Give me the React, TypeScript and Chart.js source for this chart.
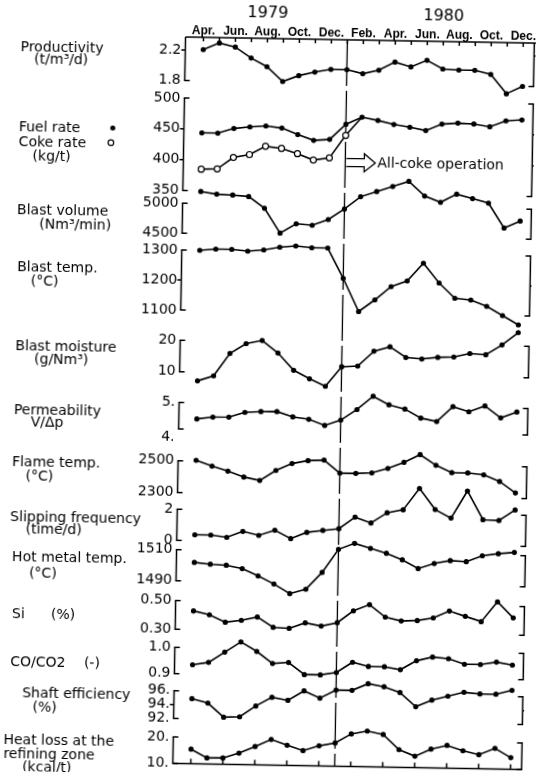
import React, { useEffect, useRef } from "react";
import { Chart, registerables } from "chart.js";

Chart.register(...registerables);

// ------------------------------------------------------------------ data
const categories = [
  "Apr. 1979", "May 1979", "Jun. 1979", "Jul. 1979", "Aug. 1979", "Sep. 1979", "Oct. 1979",
  "Nov. 1979", "Dec. 1979", "Jan. 1980", "Feb. 1980", "Mar. 1980", "Apr. 1980", "May 1980",
  "Jun. 1980", "Jul. 1980", "Aug. 1980", "Sep. 1980", "Oct. 1980", "Nov. 1980", "Dec. 1980",
];
const monthTickLabels = [
  "Apr.", "", "Jun.", "", "Aug.", "", "Oct.", "", "Dec.", "", "Feb.",
  "", "Apr.", "", "Jun.", "", "Aug.", "", "Oct.", "", "Dec.",
];
const yearTickLabels = [
  "", "", "", "", "1979", "", "", "", "", "", "", "", "", "", "", "1980", "", "", "", "", "",
];
const allCokeStartIndex = 9; // Jan. 1980
const allCokeText = "All-coke operation";

const productivity = [2.21, 2.3, 2.25, 2.11, 2.0, 1.81, 1.89, 1.94, 1.98, 1.98, 1.93, 1.98, 2.09, 2.03, 2.12, 2.01, 2.0, 2.0, 1.95, 1.7, 1.8];
const fuelRate = [444, 444, 452, 455, 457, 454, 444, 435, 437, 462, 474, 469, 463, 459, 454, 465, 467, 466, 462, 472, 474];
const cokeRate = [385, 386, 405, 410, 424, 421, 413, 403, 407, 444, 474, null, null, null, null, null, null, null, null, null, null];
const blastVolume = [5200, 5160, 5150, 5130, 4940, 4530, 4690, 4670, 4770, 4950, 5160, 5250, 5340, 5430, 5190, 5090, 5230, 5160, 5090, 4680, 4800];
const blastTemp = [1300, 1305, 1305, 1300, 1305, 1315, 1320, 1315, 1315, 1215, 1105, 1145, 1190, 1210, 1270, 1205, 1155, 1150, 1130, 1100, 1070];
const blastMoisture = [7.2, 8.9, 16.1, 19.3, 20.4, 16.5, 11.1, 8.5, 6.2, 12.5, 12.8, 17.6, 19.1, 15.8, 15.4, 16.0, 16.2, 17.4, 17.1, 20.3, 24.3];
const permeability = [4.39, 4.47, 4.48, 4.67, 4.71, 4.72, 4.53, 4.45, 4.23, 4.44, 4.85, 5.36, 5.05, 4.9, 4.57, 4.45, 5.02, 4.84, 5.07, 4.63, 4.86];
const flameTemp = [2505, 2470, 2440, 2405, 2385, 2450, 2495, 2515, 2520, 2440, 2440, 2445, 2475, 2515, 2565, 2500, 2455, 2455, 2445, 2405, 2335];
const slippingFrequency = [0.38, 0.38, 0.25, 0.65, 0.41, 0.76, 0.24, 0.66, 0.8, 0.93, 1.69, 1.33, 2.01, 2.22, 3.61, 2.27, 1.74, 3.5, 1.67, 1.64, 2.33];
const hotMetalTemp = [1502, 1501, 1500.5, 1498.5, 1494, 1489, 1483, 1486, 1497, 1512, 1516, 1513, 1510, 1506, 1500.5, 1504, 1506, 1505.5, 1509.5, 1511, 1512];
const siliconContent = [0.43, 0.405, 0.355, 0.37, 0.395, 0.325, 0.32, 0.36, 0.34, 0.365, 0.45, 0.495, 0.41, 0.385, 0.39, 0.41, 0.46, 0.425, 0.39, 0.53, 0.42];
const coCo2Ratio = [0.935, 0.945, 0.985, 1.025, 0.99, 0.945, 0.95, 0.905, 0.905, 0.915, 0.955, 0.94, 0.94, 0.93, 0.965, 0.98, 0.975, 0.955, 0.955, 0.965, 0.955];
const shaftEfficiency = [94.9, 94.3, 92.3, 92.4, 94.0, 95.3, 94.9, 96.3, 95.3, 96.5, 96.5, 97.5, 97.1, 96.3, 94.3, 95.3, 95.9, 96.5, 96.3, 96.3, 96.9];
const heatLoss = [15.5, 12.3, 12.4, 14.3, 16.9, 19.7, 17.6, 15.7, 17.6, 18.8, 22.3, 23.5, 22.3, 16.7, 14.3, 17.1, 18.6, 16.7, 15.3, 17.8, 14.4];

// tick values and tick labels of each panel (top to bottom)
const productivityTicks = [2.2, 1.8];
const productivityTickLabels = ["2.2", "1.8"];
const rateTicks = [500, 450, 400, 350];
const rateTickLabels = ["500", "450", "400", "350"];
const blastVolumeTicks = [5000, 4500];
const blastVolumeTickLabels = ["5000", "4500"];
const blastTempTicks = [1300, 1200, 1100];
const blastTempTickLabels = ["1300", "1200", "1100"];
const moistureTicks = [20, 10];
const moistureTickLabels = ["20", "10"];
const permeabilityTicks = [5, 4];
const permeabilityTickLabels = ["5.", "4."];
const flameTicks = [2500, 2300];
const flameTickLabels = ["2500", "2300"];
const slipTicks = [2, 0];
const slipTickLabels = ["2", "0"];
const hotMetalTicks = [1510, 1490];
const hotMetalTickLabels = ["1510", "1490"];
const siTicks = [0.5, 0.3];
const siTickLabels = ["0.50", "0.30"];
const coTicks = [1.0, 0.9];
const coTickLabels = ["1.0", "0.9"];
const shaftTicks = [96, 94, 92];
const shaftTickLabels = ["96.", "94.", "92."];
const heatTicks = [20, 10];
const heatTickLabels = ["20.", "10."];

// panel titles (each entry is one text piece)
const panelTitles = [
  ["Productivity", "(t/m³/d)"],
  ["Fuel rate", "Coke rate", "(kg/t)"],
  ["Blast volume", "(Nm³/min)"],
  ["Blast temp.", "(°C)"],
  ["Blast moisture", "(g/Nm³)"],
  ["Permeability", "V/Δp"],
  ["Flame temp.", "(°C)"],
  ["Slipping frequency", "(time/d)"],
  ["Hot metal temp.", "(°C)"],
  ["Si", "(%)"],
  ["CO/CO2", "(-)"],
  ["Shaft efficiency", "(%)"],
  ["Heat loss at the", "refining zone", "(kcal/t)"],
];

type Series = { label: string; data: (number | null)[]; open?: boolean };
const PANELS: { series: Series[]; ticks: number[]; tickLabels: string[] }[] = [
  { series: [{ label: "Productivity", data: productivity }], ticks: productivityTicks, tickLabels: productivityTickLabels },
  {
    series: [
      { label: "Fuel rate", data: fuelRate },
      { label: "Coke rate", data: cokeRate, open: true },
    ],
    ticks: rateTicks,
    tickLabels: rateTickLabels,
  },
  { series: [{ label: "Blast volume", data: blastVolume }], ticks: blastVolumeTicks, tickLabels: blastVolumeTickLabels },
  { series: [{ label: "Blast temp.", data: blastTemp }], ticks: blastTempTicks, tickLabels: blastTempTickLabels },
  { series: [{ label: "Blast moisture", data: blastMoisture }], ticks: moistureTicks, tickLabels: moistureTickLabels },
  { series: [{ label: "Permeability", data: permeability }], ticks: permeabilityTicks, tickLabels: permeabilityTickLabels },
  { series: [{ label: "Flame temp.", data: flameTemp }], ticks: flameTicks, tickLabels: flameTickLabels },
  { series: [{ label: "Slipping frequency", data: slippingFrequency }], ticks: slipTicks, tickLabels: slipTickLabels },
  { series: [{ label: "Hot metal temp.", data: hotMetalTemp }], ticks: hotMetalTicks, tickLabels: hotMetalTickLabels },
  { series: [{ label: "Si", data: siliconContent }], ticks: siTicks, tickLabels: siTickLabels },
  { series: [{ label: "CO/CO2", data: coCo2Ratio }], ticks: coTicks, tickLabels: coTickLabels },
  { series: [{ label: "Shaft efficiency", data: shaftEfficiency }], ticks: shaftTicks, tickLabels: shaftTickLabels },
  { series: [{ label: "Heat loss", data: heatLoss }], ticks: heatTicks, tickLabels: heatTickLabels },
];

// ------------------------------------------------------------------ layout (pixels, styles)
const W = 536;
const H = 774;
const PAD = { left: 143.5, right: 12.5, top: 0, bottom: 10.5 };
const YEAR_AXIS_H = 23;
const MONTH_AXIS_H = 14;
const Y_COL_W = 60;
const Y_LABEL_GAP = 22;
const AREA_TOP = PAD.top + YEAR_AXIS_H + MONTH_AXIS_H;
const AREA_BOTTOM = H - PAD.bottom;
// pixel rows of the highest and lowest labelled tick of every panel
const PANEL_TICK_PX: [number, number][] = [
  [50, 80.5], [98, 190.5], [203.2, 233.2], [250, 310], [340.3, 371.8], [402.5, 429],
  [460.8, 492.6], [509.3, 540.4], [549.7, 580.8], [600.6, 629.3], [647.4, 673.7],
  [690.8, 718.5], [737, 763.5],
];
// vertical nudge of individual tick labels (panel, tick index, dy)
const TICK_LABEL_NUDGE: [number, number, number][] = [[5, 1, 8]];
const TITLE_POS: [number, number][][] = [
  [[20.7, 49.9], [34.6, 62.6]],
  [[20.4, 130.8], [20.6, 145.5], [34.6, 158.9]],
  [[20.1, 212.9], [42.6, 227.2]],
  [[21.2, 270], [35.1, 284]],
  [[20.8, 349.8], [39.8, 362.4]],
  [[20.4, 413.8], [37.5, 425.8]],
  [[19.4, 465.5], [33.3, 479]],
  [[18.6, 520.2], [34.2, 532.6]],
  [[21.1, 560.5], [38.4, 575.9]],
  [[22.1, 617.3], [61.1, 617.3]],
  [[21.2, 665.8], [94.9, 665.8]],
  [[33.7, 696], [44.2, 710]],
  [[15.7, 743.5], [15.9, 757.5], [34.9, 770.5]],
];
const LEGEND_MARKS = [
  { x: 114.4, y: 129.3, open: false },
  { x: 112.8, y: 143.9, open: true },
];
const SANS = "'DejaVu Sans', 'Liberation Sans', sans-serif";
const MONTH_FONT = "'Liberation Sans', Arial, sans-serif";
const INK = "#000";

const bandEdges: number[] = [AREA_TOP];
for (let k = 0; k < PANEL_TICK_PX.length - 1; k++) {
  bandEdges.push((PANEL_TICK_PX[k][1] + PANEL_TICK_PX[k + 1][0]) / 2);
}
bandEdges.push(AREA_BOTTOM);

function buildYScale(k: number) {
  const p = PANELS[k];
  const hi = p.ticks[0];
  const lo = p.ticks[p.ticks.length - 1];
  const [yHi, yLo] = PANEL_TICK_PX[k];
  const top = bandEdges[k];
  const bottom = bandEdges[k + 1];
  const upp = (hi - lo) / (yLo - yHi);
  const nudged = new Set(TICK_LABEL_NUDGE.filter((n) => n[0] === k).map((n) => n[1]));
  return {
    type: "linear",
    position: "left",
    stack: "panels",
    stackWeight: bottom - top,
    weight: 100 - k,
    bounds: "data",
    min: lo - upp * (bottom - yLo),
    max: hi + upp * (yHi - top),
    // invisible tick marks only provide the gap between labels and chart area
    grid: { display: false, drawTicks: true, tickLength: Y_LABEL_GAP },
    border: { display: false },
    afterBuildTicks: (s: any) => {
      s.ticks = p.ticks.map((v) => ({ value: v }));
    },
    afterFit: (s: any) => {
      s.width = Y_COL_W;
    },
    ticks: {
      autoSkip: false,
      padding: 0,
      color: INK,
      font: { family: SANS, size: 14 },
      // a nudged label is printed on the second line of a two-line label (half a line lower)
      callback: (_v: any, i: number) => (nudged.has(i) ? ["", p.tickLabels[i]] : p.tickLabels[i]),
    },
  };
}

function line(ctx: CanvasRenderingContext2D, x1: number, y1: number, x2: number, y2: number) {
  ctx.beginPath();
  ctx.moveTo(x1, y1);
  ctx.lineTo(x2, y2);
  ctx.stroke();
}

const decorPlugin = {
  id: "decor",
  beforeDatasetsDraw(chart: any) {
    const { ctx, chartArea } = chart;
    const xs = chart.scales.x;
    const n = categories.length;
    const x0 = xs.getPixelForValue(0);
    const xn = xs.getPixelForValue(n - 1);
    const step = (xn - x0) / (n - 1);
    const leftX = x0 - step * 1.125;
    const rightX = xn + step * 0.69;
    ctx.save();
    ctx.strokeStyle = INK;
    ctx.lineWidth = 1.5;
    // top axis with a tick every month
    line(ctx, leftX, chartArea.top, chart.width, chartArea.top);
    for (let i = 0; i < n; i++) {
      const x = xs.getPixelForValue(i);
      line(ctx, x, chartArea.top, x, chartArea.top + 4);
    }
    // bottom axis with a tick every two months
    line(ctx, leftX, chartArea.bottom, rightX, chartArea.bottom);
    for (let i = 0; i < n; i += 2) {
      const x = xs.getPixelForValue(i);
      line(ctx, x, chartArea.bottom, x, chartArea.bottom - 5);
    }
    // panel brackets on both sides
    PANELS.forEach((p, k) => {
      const ys = chart.scales["y" + k];
      const pix = p.ticks.map((v) => ys.getPixelForValue(v));
      const yTop = k === 0 ? chartArea.top : pix[0];
      const yBot = pix[pix.length - 1];
      line(ctx, leftX, yTop, leftX, yBot);
      line(ctx, rightX, yTop, rightX, yBot);
      pix.forEach((py, j) => {
        const isEnd = (j === 0 && k !== 0) || j === pix.length - 1;
        if (isEnd) {
          line(ctx, leftX - 0.75, py, leftX + 5, py);
          line(ctx, rightX + 0.75, py, rightX - 5, py);
        } else {
          line(ctx, leftX - 4, py, leftX, py);
          line(ctx, rightX, py, rightX + 4, py);
        }
      });
    });
    // start of all-coke operation
    const xc = xs.getPixelForValue(allCokeStartIndex);
    ctx.lineWidth = 1.3;
    ctx.setLineDash([46, 5]);
    line(ctx, xc, chartArea.top, xc, chartArea.bottom);
    ctx.setLineDash([]);
    ctx.restore();
  },
  afterDraw(chart: any) {
    const { ctx } = chart;
    const xs = chart.scales.x;
    ctx.save();
    ctx.fillStyle = INK;
    ctx.strokeStyle = INK;
    ctx.textBaseline = "middle";
    ctx.textAlign = "left";
    ctx.font = `14px ${SANS}`;
    panelTitles.forEach((lines, k) => {
      lines.forEach((t, j) => {
        const [x, y] = TITLE_POS[k][j];
        ctx.fillText(t, x, y);
      });
    });
    LEGEND_MARKS.forEach((m) => {
      ctx.beginPath();
      ctx.arc(m.x, m.y, m.open ? 2.8 : 2.5, 0, Math.PI * 2);
      if (m.open) {
        ctx.lineWidth = 1.2;
        ctx.stroke();
      } else {
        ctx.fill();
      }
    });
    // outline arrow + annotation
    const ax = xs.getPixelForValue(allCokeStartIndex) + 1;
    const ay = chart.scales.y1.getPixelForValue(400);
    ctx.lineWidth = 1.3;
    ctx.beginPath();
    ctx.moveTo(ax, ay - 4);
    ctx.lineTo(ax + 18, ay - 4);
    ctx.lineTo(ax + 18, ay - 9);
    ctx.lineTo(ax + 29, ay);
    ctx.lineTo(ax + 18, ay + 9);
    ctx.lineTo(ax + 18, ay + 4);
    ctx.lineTo(ax, ay + 4);
    ctx.stroke();
    ctx.fillText(allCokeText, ax + 31, ay + 1);
    ctx.restore();
  },
};

export default function App() {
  const ref = useRef<HTMLCanvasElement>(null);
  useEffect(() => {
    if (!ref.current) return;
    const datasets: any[] = [];
    PANELS.forEach((p, k) => {
      p.series.forEach((s) => {
        const lastIdx = s.data.reduce((acc: number, v, i) => (v !== null ? i : acc), -1);
        datasets.push({
          label: s.label,
          data: s.data,
          xAxisID: "x",
          yAxisID: "y" + k,
          borderColor: INK,
          borderWidth: 1.6,
          tension: 0,
          fill: false,
          clip: false,
          pointStyle: "circle",
          pointRadius: s.open ? (c: any) => (c.dataIndex < lastIdx ? 3 : 0) : 2.6,
          pointBackgroundColor: s.open ? "#fff" : INK,
          pointBorderColor: INK,
          pointBorderWidth: s.open ? 1.2 : 0,
        });
      });
    });
    const scales: any = {
      xYear: {
        type: "category",
        position: "top",
        weight: 2,
        offset: false,
        grid: { display: false, drawTicks: false },
        border: { display: false },
        afterFit: (s: any) => {
          s.height = YEAR_AXIS_H;
        },
        ticks: {
          autoSkip: false,
          maxRotation: 0,
          minRotation: 0,
          padding: 3.3,
          color: INK,
          font: { family: SANS, size: 16, lineHeight: 1 },
          callback: (_v: any, i: number) => yearTickLabels[i],
        },
      },
      x: {
        type: "category",
        position: "top",
        weight: 1,
        offset: false,
        grid: { display: false, drawTicks: false },
        border: { display: false },
        afterFit: (s: any) => {
          s.height = MONTH_AXIS_H;
        },
        ticks: {
          autoSkip: false,
          maxRotation: 0,
          minRotation: 0,
          padding: 0,
          color: INK,
          font: { family: MONTH_FONT, size: 12, weight: "bold", lineHeight: 1 },
          callback: (_v: any, i: number) => monthTickLabels[i],
        },
      },
    };
    PANELS.forEach((_p, k) => {
      scales["y" + k] = buildYScale(k);
    });
    const chart = new Chart(ref.current, {
      type: "line",
      data: { labels: categories, datasets },
      options: {
        responsive: false,
        animation: false,
        devicePixelRatio: 1,
        events: [],
        layout: { padding: PAD },
        plugins: { legend: { display: false }, tooltip: { enabled: false }, title: { display: false } },
        scales,
      } as any,
      plugins: [decorPlugin],
    });
    return () => chart.destroy();
  }, []);
  return (
    <div
      style={{
        position: "fixed",
        left: 0,
        top: 0,
        width: W,
        height: H,
        transform: "rotate(1deg)",
        transformOrigin: "185px 37px",
      }}
    >
      <canvas ref={ref} width={W} height={H} style={{ display: "block", width: W, height: H }} />
    </div>
  );
}
